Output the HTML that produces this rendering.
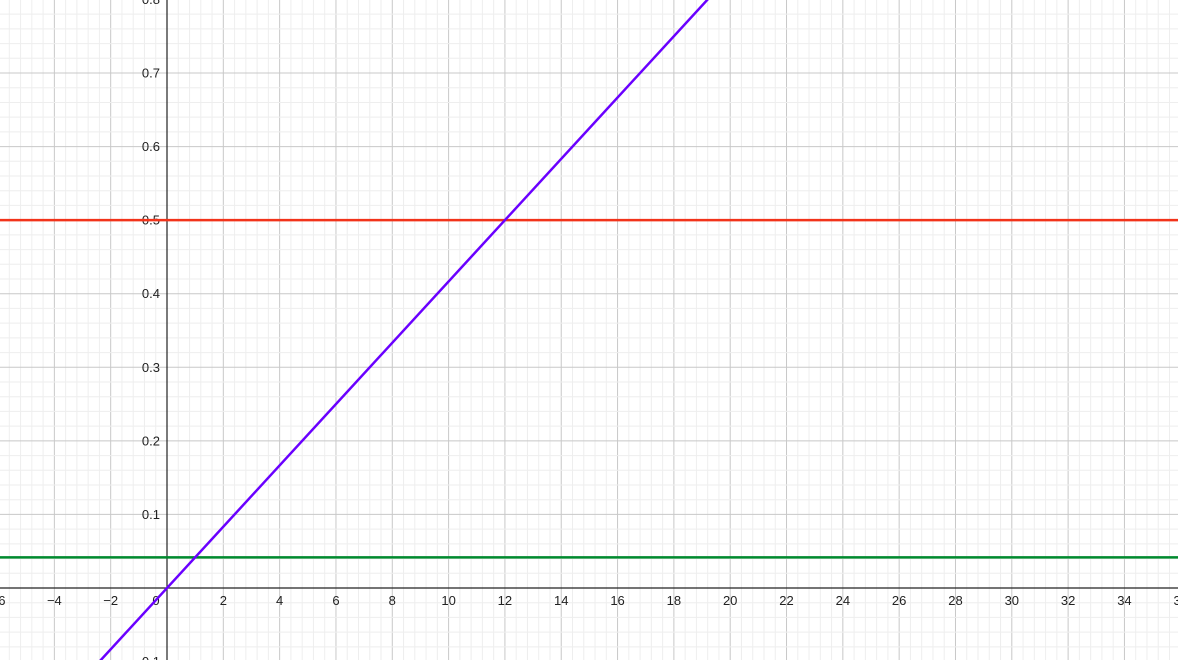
<!DOCTYPE html>
<html><head><meta charset="utf-8"><style>
html,body{margin:0;padding:0;background:#fff;overflow:hidden;width:1178px;height:660px}
svg{display:block;font-family:"Liberation Sans",Arial,sans-serif}
</style></head><body>
<svg id="chart" width="1178" height="660" viewBox="0 0 1178 660" xmlns="http://www.w3.org/2000/svg"></svg>
<script>
const xTicks = [-6,-4,-2,2,4,6,8,10,12,14,16,18,20,22,24,26,28,30,32,34,36];
const yTicks = [-0.1,0.1,0.2,0.3,0.4,0.5,0.6,0.7,0.8];
const hLineValues = [0.5, 1/24];
const hLineNames = ['red-horizontal-line','green-horizontal-line'];
const hLineColors = ['#f2331a','#008a2e'];
const slopeLineSlope = [1/24];
const slopeLineIntercept = [0];

const W=1178,H=660,ox=167,oy=588,sx=28.16,sy=735.7;
const X=v=>ox+v*sx, Y=v=>oy-v*sy;
const svg=document.getElementById('chart');
const NS='http://www.w3.org/2000/svg';
function mk(t,a,p){const e=document.createElementNS(NS,t);for(const k in a)e.setAttribute(k,a[k]);(p||svg).appendChild(e);return e;}

const grid=mk('g',{});


for(let i=-40;i<=200;i++){const v=i*0.4;const x=X(v);if(x<-1||x>W+1)continue;
 const major=i%5===0;
 mk('line',{x1:x,y1:0,x2:x,y2:H,stroke:major?'#c8c8c8':'#eeeeee','stroke-width':1},grid);}
for(let i=-10;i<=45;i++){const v=i*0.02;const y=Y(v);if(y<-1||y>H+1)continue;
 const major=i%5===0;
 mk('line',{x1:0,y1:y,x2:W,y2:y,stroke:major?'#c8c8c8':'#eeeeee','stroke-width':1},grid);}

const ax=mk('line',{x1:0,y1:oy,x2:W,y2:oy,stroke:'#222','stroke-width':1.2});


const ay=mk('line',{x1:ox,y1:0,x2:ox,y2:H,stroke:'#222','stroke-width':1.2});



const fmt=v=>(v<0?'\u2212':'')+String(Math.abs(Math.round(v*10)/10));
xTicks.forEach(v=>{const t=mk('text',{x:X(v),y:oy+17,'text-anchor':'middle','font-size':13,fill:'#222'});t.textContent=fmt(v);
 
 });
const z=mk('text',{x:ox-11,y:oy+17,'text-anchor':'middle','font-size':13,fill:'#222'});z.textContent='0';


yTicks.forEach(v=>{const t=mk('text',{x:ox-7,y:Y(v)+4.5,'text-anchor':'end','font-size':13,fill:'#222'});t.textContent=fmt(v);
 
 });

hLineValues.forEach((v,i)=>{const l=mk('line',{x1:0,y1:Y(v),x2:W,y2:Y(v),stroke:hLineColors[i],'stroke-width':2.5});
 
 });
slopeLineSlope.forEach((m,i)=>{const b=slopeLineIntercept[i];const x0=-12,x1=40;
 const l=mk('line',{x1:X(x0),y1:Y(m*x0+b),x2:X(x1),y2:Y(m*x1+b),stroke:'#6a00ff','stroke-width':2.5});
 
 });
</script>
</body></html>
